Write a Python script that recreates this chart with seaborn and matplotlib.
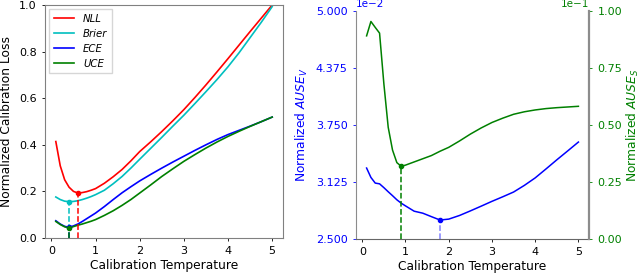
import numpy as np
import pandas as pd
import matplotlib
matplotlib.use("Agg")
import matplotlib.pyplot as plt
from matplotlib.ticker import ScalarFormatter
import seaborn as sns

temps = [0.1, 0.2, 0.3, 0.4, 0.5, 0.6, 0.7, 0.8, 0.9, 1.0, 1.2, 1.4, 1.6, 1.8,
         2.0, 2.25, 2.5, 2.75, 3.0, 3.25, 3.5, 3.75, 4.0, 4.25, 4.5, 4.75, 5.0]

nll = [0.414, 0.31, 0.25, 0.218, 0.200, 0.193, 0.195, 0.199, 0.205, 0.212, 0.235, 0.263,
       0.294, 0.331, 0.371, 0.413, 0.457, 0.503, 0.551, 0.603, 0.657, 0.713, 0.770,
       0.828, 0.886, 0.943, 1.0]
brier = [0.176, 0.165, 0.158, 0.156, 0.157, 0.160, 0.165, 0.171, 0.178, 0.186, 0.205,
         0.233, 0.264, 0.300, 0.338, 0.385, 0.432, 0.480, 0.527, 0.577, 0.628, 0.680,
         0.735, 0.795, 0.860, 0.925, 0.993]
ece = [0.074, 0.060, 0.050, 0.046, 0.052, 0.060, 0.071, 0.083, 0.095, 0.107, 0.135,
       0.165, 0.194, 0.220, 0.245, 0.273, 0.300, 0.326, 0.351, 0.376, 0.400, 0.423,
       0.444, 0.462, 0.480, 0.499, 0.519]
uce = [0.071, 0.058, 0.048, 0.043, 0.049, 0.055, 0.060, 0.066, 0.072, 0.079, 0.097,
       0.117, 0.140, 0.165, 0.193, 0.228, 0.264, 0.297, 0.329, 0.358, 0.386, 0.412,
       0.436, 0.458, 0.479, 0.499, 0.519]

ause_v = [0.03278, 0.03175, 0.03113, 0.03105, 0.03063, 0.03018, 0.02975, 0.02930,
          0.02893, 0.02863, 0.02805, 0.02783, 0.02745, 0.02708, 0.02718, 0.02758,
          0.02808, 0.02860, 0.02913, 0.02963, 0.03015, 0.03088, 0.03170, 0.03268,
          0.03368, 0.03465, 0.03563]
ause_s = [0.0891, 0.0954, 0.0928, 0.0903, 0.0680, 0.0490, 0.0390, 0.0335, 0.0319,
          0.0324, 0.0338, 0.0352, 0.0366, 0.0385, 0.0402, 0.0430, 0.0460, 0.0487,
          0.0511, 0.0530, 0.0547, 0.0558, 0.0566, 0.0572, 0.0576, 0.0579, 0.0582]

left_series = ["NLL", "Brier", "ECE", "UCE"]
left_values = [nll, brier, ece, uce]
left_colors = ["red", "c", "blue", "green"]

LBL = 8.8
fig = plt.figure(figsize=(6.4, 2.73), dpi=100)
ax1 = fig.add_axes([45/640, 35/273, 238/640, 233/273])
ax2 = fig.add_axes([356/640, 34/273, 233/640, 228/273])

# Left panel
for name, vals, col in zip(left_series, left_values, left_colors):
    df = pd.DataFrame({"T": temps, "v": vals})
    sns.lineplot(data=df, x="T", y="v", ax=ax1, color=col, lw=1.2, label=name)
for name, vals, col in zip(left_series, left_values, left_colors):
    i = int(np.argmin(vals))
    ax1.plot([temps[i], temps[i]], [0, vals[i]], ls="--", color=col, lw=1.1)
    ax1.plot(temps[i], vals[i], "o", color=col, ms=3)
ax1.set_ylim(0, 1.0)
ax1.set_yticks([0, 0.2, 0.4, 0.6, 0.8, 1.0])
ax1.set_xticks([0, 1, 2, 3, 4, 5])
ax1.set_xlabel("Calibration Temperature", fontsize=LBL, labelpad=2)
ax1.set_ylabel("Normalized Calibration Loss", fontsize=LBL)
ax1.tick_params(labelsize=8, length=2.5, width=0.6)
for s in ax1.spines.values():
    s.set_color("0.5")
    s.set_linewidth(0.8)
leg = ax1.legend(loc="upper left", prop={"style": "italic", "size": 7.3},
                 handlelength=2.0, handletextpad=0.9, borderpad=0.45,
                 labelspacing=0.5, borderaxespad=0.4, fancybox=False)
leg.get_frame().set_edgecolor("0.8")

# Right panel
ax3 = ax2.twinx()
dv = pd.DataFrame({"T": temps, "v": ause_v})
ds = pd.DataFrame({"T": temps, "v": ause_s})
sns.lineplot(data=dv, x="T", y="v", ax=ax2, color="blue", lw=1.1)
sns.lineplot(data=ds, x="T", y="v", ax=ax3, color="green", lw=1.1)
iv = int(np.argmin(ause_v))
is_ = int(np.argmin(ause_s))
ax2.set_ylim(0.025, 0.05)
ax3.set_ylim(0.0, 0.1)
ax2.plot([temps[iv], temps[iv]], [0.025, ause_v[iv]], ls="--", color="blue", alpha=0.5, lw=1.1)
ax2.plot(temps[iv], ause_v[iv], "o", color="blue", ms=3)
ax3.plot([temps[is_], temps[is_]], [0.0, ause_s[is_]], ls="--", color="green", lw=1.1)
ax3.plot(temps[is_], ause_s[is_], "o", color="green", ms=3)
ax2.set_yticks(np.linspace(0.025, 0.05, 5))
ax3.set_yticks(np.linspace(0.0, 0.1, 5))
for a in (ax2, ax3):
    fmt = ScalarFormatter(useMathText=False)
    fmt.set_scientific(True)
    fmt.set_powerlimits((0, 0))
    a.yaxis.set_major_formatter(fmt)
ax2.set_xticks([0, 1, 2, 3, 4, 5])
ax2.set_xlabel("Calibration Temperature", fontsize=LBL, labelpad=2)
ax2.set_ylabel("Normalized $AUSE_V$", fontsize=LBL, color="blue")
ax3.set_ylabel("Normalized $AUSE_S$", fontsize=LBL, color="green", labelpad=2)
ax2.tick_params(axis="x", labelsize=8, length=2.5, width=0.6)
ax2.tick_params(axis="y", labelsize=8, length=2.5, width=0.6, colors="blue")
ax3.tick_params(axis="y", labelsize=8, length=2.5, width=0.6, colors="green")
ax2.yaxis.get_offset_text().set_fontsize(7.5)
ax3.yaxis.get_offset_text().set_fontsize(7.5)
for a in (ax2, ax3):
    a.spines["top"].set_visible(False)
ax2.spines["left"].set_color("0.55")
ax2.spines["bottom"].set_color("0.4")
ax3.spines["left"].set_visible(False)
ax3.spines["bottom"].set_visible(False)
ax3.spines["right"].set_color("0.55")
ax3.spines["right"].set_linewidth(1.6)
ax2.spines["right"].set_visible(False)

fig.savefig("out.png", dpi=100)
